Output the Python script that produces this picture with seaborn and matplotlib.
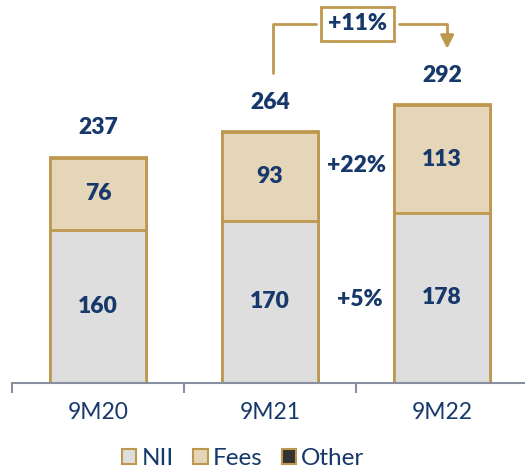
import matplotlib
matplotlib.use('Agg')
import pandas as pd
import numpy as np
import matplotlib.pyplot as plt
import seaborn as sns
from matplotlib.patches import Patch

periods = ["9M20", "9M21", "9M22"]
nii = [160, 170, 178]
fees = [76, 93, 113]
other = [1, 1, 1]
totals = [237, 264, 292]

navy = "#17386b"
gold = "#bf9850"
sns.set_style("white")
plt.rcParams['font.family'] = ['Lato', 'DejaVu Sans']

df = pd.DataFrame({"period": periods, "nii": nii, "fees": fees, "other": other})
df["nii_fees"] = df["nii"] + df["fees"]
df["total"] = df["nii_fees"] + df["other"]

fig = plt.figure(figsize=(5.25, 4.72), dpi=100)
ax = fig.add_axes([12 / 525, 1 - 383 / 472, 516 / 525, 383 / 472])

# stacked bars drawn back to front
sns.barplot(data=df, x="period", y="total", color="#333333", edgecolor=gold,
            linewidth=2, width=0.56, saturation=1, ax=ax)
sns.barplot(data=df, x="period", y="nii_fees", color="#e5d5b9", edgecolor=gold,
            linewidth=2, width=0.56, saturation=1, ax=ax)
sns.barplot(data=df, x="period", y="nii", color="#dedede", edgecolor=gold,
            linewidth=2, width=0.56, saturation=1, ax=ax)

ax.set_ylim(0, 401)
ax.set_xlim(-0.5, 2.5)
ax.set_xlabel("")
ax.set_ylabel("")
ax.set_yticks([])
for s in ["left", "top", "right"]:
    ax.spines[s].set_visible(False)
ax.spines["bottom"].set_color("#8a8fa0")
ax.spines["bottom"].set_linewidth(1.5)
ax.set_xticks([-0.5, 0.5, 1.5])
ax.set_xticklabels([])
ax.tick_params(axis="x", which="major", bottom=True, length=7, width=1.5,
               color="#8a8fa0", direction="out")
ax.set_xticks([0, 1, 2], minor=True)
ax.set_xticklabels(periods, minor=True)
ax.tick_params(axis="x", which="minor", bottom=True, length=0, pad=14,
               labelsize=16.5, labelcolor=navy)

lab = dict(ha="center", va="center", fontsize=16.5, fontweight="heavy", color=navy)
for i in range(3):
    ax.text(i, nii[i] / 2, str(nii[i]), **lab)
    ax.text(i, nii[i] + fees[i] / 2, str(fees[i]), **lab)
    ax.text(i, totals[i] + 30, str(totals[i]), **lab)

ax.text(1.5, 228, "+22%", **lab)
ax.text(1.52, 87, "+5%", **lab)

# growth bracket
ax.plot([1.02, 1.02, 1.27], [325, 376, 376], color=gold, lw=2, clip_on=False)
ax.plot([1.75, 2.03, 2.03], [376, 376, 362], color=gold, lw=2, clip_on=False)
ax.annotate("", xy=(2.03, 347), xytext=(2.03, 364),
            arrowprops=dict(arrowstyle="-|>,head_width=0.4,head_length=0.8", color=gold, lw=2),
            annotation_clip=False)
ax.text(1.51, 376, "+11%",
        bbox=dict(boxstyle="square,pad=0.3", facecolor="white", edgecolor=gold, linewidth=2), **lab)

handles = [Patch(facecolor="#dedede", edgecolor=gold, linewidth=1.5, label="NII"),
           Patch(facecolor="#e5d5b9", edgecolor=gold, linewidth=1.5, label="Fees"),
           Patch(facecolor="#333333", edgecolor=gold, linewidth=1.5, label="Other")]
leg = fig.legend(handles=handles, loc="lower center", bbox_to_anchor=(0.463, -0.04), ncol=3,
                 frameon=False, fontsize=17.5, handlelength=0.6, handleheight=0.6,
                 handletextpad=0.2, columnspacing=0.8)
for t in leg.get_texts():
    t.set_color(navy)

fig.savefig("out.png", dpi=100)
